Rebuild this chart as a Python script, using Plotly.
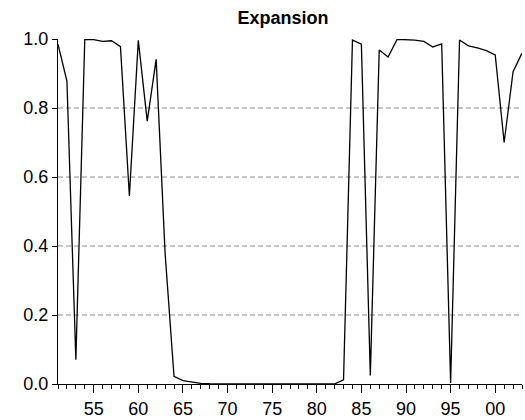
import plotly.graph_objects as go

years = list(range(1951, 2004))
expansion = [
    0.985, 0.878, 0.070, 0.998, 0.998, 0.993, 0.995, 0.978, 0.545, 0.996,  # 1951-1960
    0.762, 0.941, 0.380, 0.022, 0.010, 0.005, 0.002, 0.001, 0.001, 0.001,  # 1961-1970
    0.001, 0.001, 0.000, 0.000, 0.000, 0.000, 0.002, 0.001, 0.000, 0.000,  # 1971-1980
    0.000, 0.000, 0.012, 0.997, 0.985, 0.025, 0.968, 0.948, 0.999, 0.998,  # 1981-1990
    0.997, 0.993, 0.977, 0.986, 0.003, 0.997, 0.980, 0.974, 0.966, 0.954,  # 1991-2000
    0.700, 0.905, 0.959,                                                    # 2001-2003
]
tick_years = [1955, 1960, 1965, 1970, 1975, 1980, 1985, 1990, 1995, 2000]
tick_labels = ["55", "60", "65", "70", "75", "80", "85", "90", "95", "00"]
y_ticks = [0.0, 0.2, 0.4, 0.6, 0.8, 1.0]
y_labels = ["0.0", "0.2", "0.4", "0.6", "0.8", "1.0"]
grid_vals = [0.2, 0.4, 0.6, 0.8]

fig = go.Figure()
fig.add_trace(go.Scatter(x=years, y=expansion, mode="lines",
                         line=dict(color="black", width=1.3), showlegend=False))

for g in grid_vals:
    fig.add_shape(type="line", xref="paper", x0=0, x1=1, yref="y", y0=g, y1=g,
                  line=dict(color="#8c8c8c", width=1, dash="5px,3px"), layer="below")

fig.update_layout(
    width=525, height=420,
    margin=dict(l=58, r=3, t=39, b=36),
    paper_bgcolor="white", plot_bgcolor="white",
    font=dict(family="Liberation Sans, Arial, sans-serif", size=18, color="black"),
    title=dict(text="<b>Expansion</b>", x=283/525, xanchor="center", y=1-18/420, yanchor="middle",
               font=dict(size=18, color="black"), automargin=False),
    xaxis=dict(range=[1951, 2003], tickvals=tick_years, ticktext=tick_labels, automargin=False,
               showgrid=False, zeroline=False, showline=True, linecolor="black", linewidth=1,
               ticks="outside", ticklen=8, tickcolor="black",
               minor=dict(dtick=1, ticks="outside", ticklen=4, tickcolor="black", showgrid=False),
               tickfont=dict(size=18)),
    yaxis=dict(range=[0, 1.0], tickvals=y_ticks, ticktext=y_labels, automargin=False,
               showgrid=False, zeroline=False, showline=True, linecolor="black", linewidth=1,
               ticks="outside", ticklen=5, tickcolor="black", tickfont=dict(size=18)),
)

fig.write_html("out.html")
